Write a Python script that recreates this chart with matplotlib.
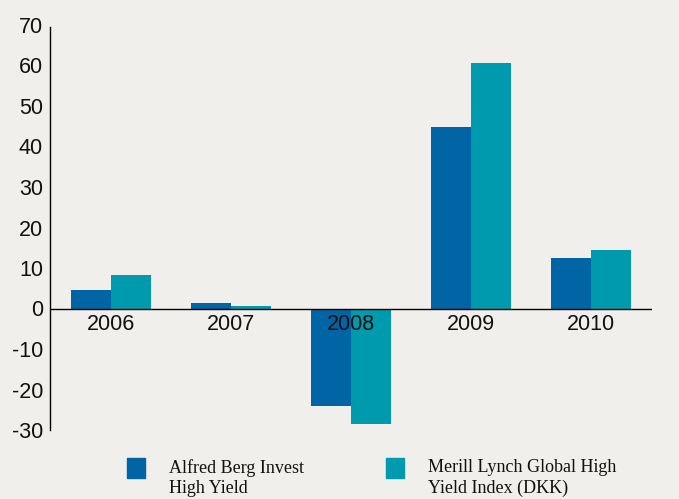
import numpy as np
import matplotlib.pyplot as plt
from matplotlib.patches import Rectangle

plt.rcParams['axes.unicode_minus'] = False

years = ['2006', '2007', '2008', '2009', '2010']
alfred_berg = [4.6, 1.4, -24.1, 44.8, 12.5]
merrill_lynch = [8.3, 0.6, -28.4, 60.6, 14.4]
series_names = ['Alfred Berg Invest\nHigh Yield', 'Merill Lynch Global High\nYield Index (DKK)']
colors = ['#0064a5', '#009aaf']
bg = '#f1efeb'

W, H = 679, 499
fig = plt.figure(figsize=(W / 100, H / 100), dpi=100, facecolor=bg)
# axes box in pixels: x 50..652, y 25..430
ax = fig.add_axes([50 / W, (H - 430) / H, (652 - 50) / W, (430 - 25) / H], facecolor=bg)

x = np.arange(len(years))
w = 1 / 3
ax.bar(x - w / 2, alfred_berg, w, color=colors[0], zorder=2)
ax.bar(x + w / 2, merrill_lynch, w, color=colors[1], zorder=2)

ax.set_xlim(-0.51, 4.51)
ax.set_ylim(-30, 70)
ax.set_yticks(range(-30, 71, 10))
ax.tick_params(axis='y', length=0, pad=5, labelsize=15.5)
ax.set_xticks([])
for lbl in ax.get_yticklabels():
    lbl.set_fontfamily('Liberation Sans')
    lbl.set_color('#111111')

for s in ['top', 'right', 'bottom']:
    ax.spines[s].set_visible(False)
ax.spines['left'].set_linewidth(1.0)
ax.spines['left'].set_bounds(-30, 69.6)
ax.axhline(0, color='black', lw=1.0, zorder=3)

# year labels sit just under the zero line, over the bars
for xi, yr in zip(x, years):
    ax.text(xi, -1.3, yr, ha='center', va='top', fontsize=15.5,
            family='Liberation Sans', color='#111111', zorder=4)

# legend
sq_x = [127, 386]
txt_x = [169, 428]
for sx, tx, c, name in zip(sq_x, txt_x, colors, series_names):
    fig.add_artist(Rectangle((sx / W, (H - 478) / H), 18 / W, 20 / H,
                             transform=fig.transFigure, color=c))
    fig.text(tx / W, (H - 459) / H, name, ha='left', va='top', fontsize=13,
             family='Liberation Serif', color='#111111', linespacing=1.25)

fig.savefig('out.png', dpi=100, facecolor=bg)
